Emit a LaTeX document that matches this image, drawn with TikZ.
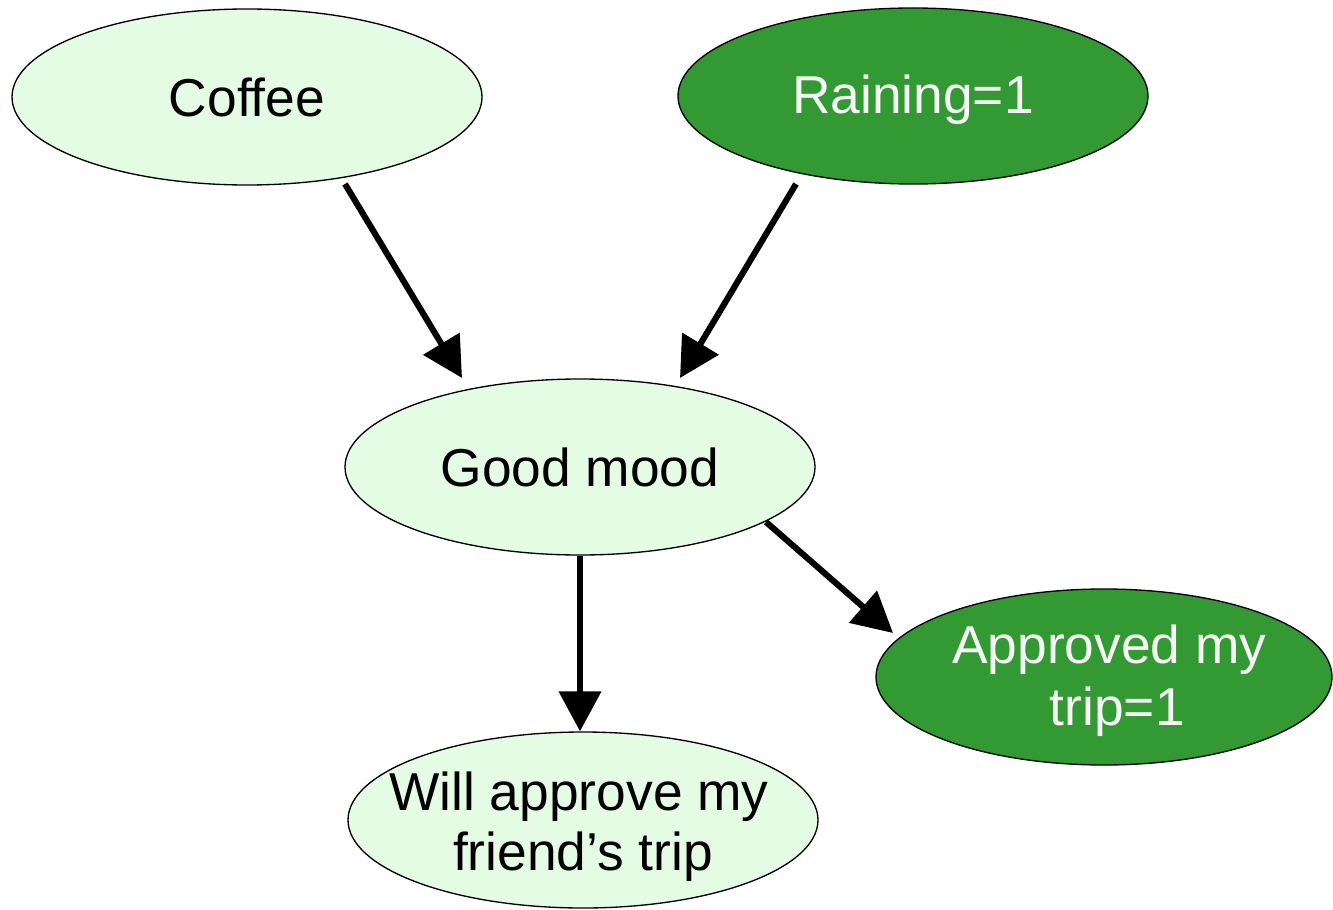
\documentclass[tikz,border=0pt]{standalone}
\usepackage{fontspec}
\setmainfont{Liberation Sans}
\usetikzlibrary{shapes.geometric,arrows.meta,calc}
\definecolor{lightgreen}{HTML}{E3FCE3}
\definecolor{darkgreen}{HTML}{339933}
\definecolor{offwhite}{HTML}{F7F7F7}
\newcommand{\celltext}[3]{\makebox[0pt]{\raisebox{#1}[\height][\depth]{\fontsize{40}{#2}\selectfont\begin{tabular}{@{}c@{}}#3\end{tabular}}}}
\begin{document}
\begin{tikzpicture}[x=0.75pt,y=-0.75pt,
  var/.style={ellipse, draw=black, line width=1pt, minimum width=352.5pt, minimum height=132pt, inner sep=0pt,
    font=\fontsize{40}{45}\selectfont, align=center},
  hidden/.style={var, fill=lightgreen, text=black},
  observed/.style={var, fill=darkgreen, text=offwhite},
  edge/.style={line width=4.6pt, -{Triangle[width=31pt,length=30pt]}}]
\useasboundingbox (0,0) rectangle (1333,909);
\node[hidden] (coffee) at (247,97) {Coffee};
\node[observed] (rain) at (913,96) {\raisebox{-3pt}[\height][\depth]{Raining=1}};
\node[hidden] (mood) at (580,467) {Good mood};
\node[observed, minimum width=342pt] (approved) at (1104,677)
  {\celltext{-4pt}{46.5pt}{\hspace*{8pt}Approved my\\\hspace*{20pt}trip=1}};
\node[hidden] (will) at (583,820)
  {\celltext{-6pt}{45pt}{\hspace*{-6pt}Will approve my\\friend’s trip}};
\draw[edge] ($(coffee.center)+(98,87)$) -- ($(mood.center)+(-118,-89)$);
\draw[edge] ($(rain.center)+(-117,88)$) -- ($(mood.center)+(100,-89)$);
\draw[edge] (mood.south) -- (mood.south |- will.north);
\draw[edge] ($(mood.center)+(186,55)$) -- ($(approved.center)+(-211,-44)$);
\end{tikzpicture}
\end{document}
